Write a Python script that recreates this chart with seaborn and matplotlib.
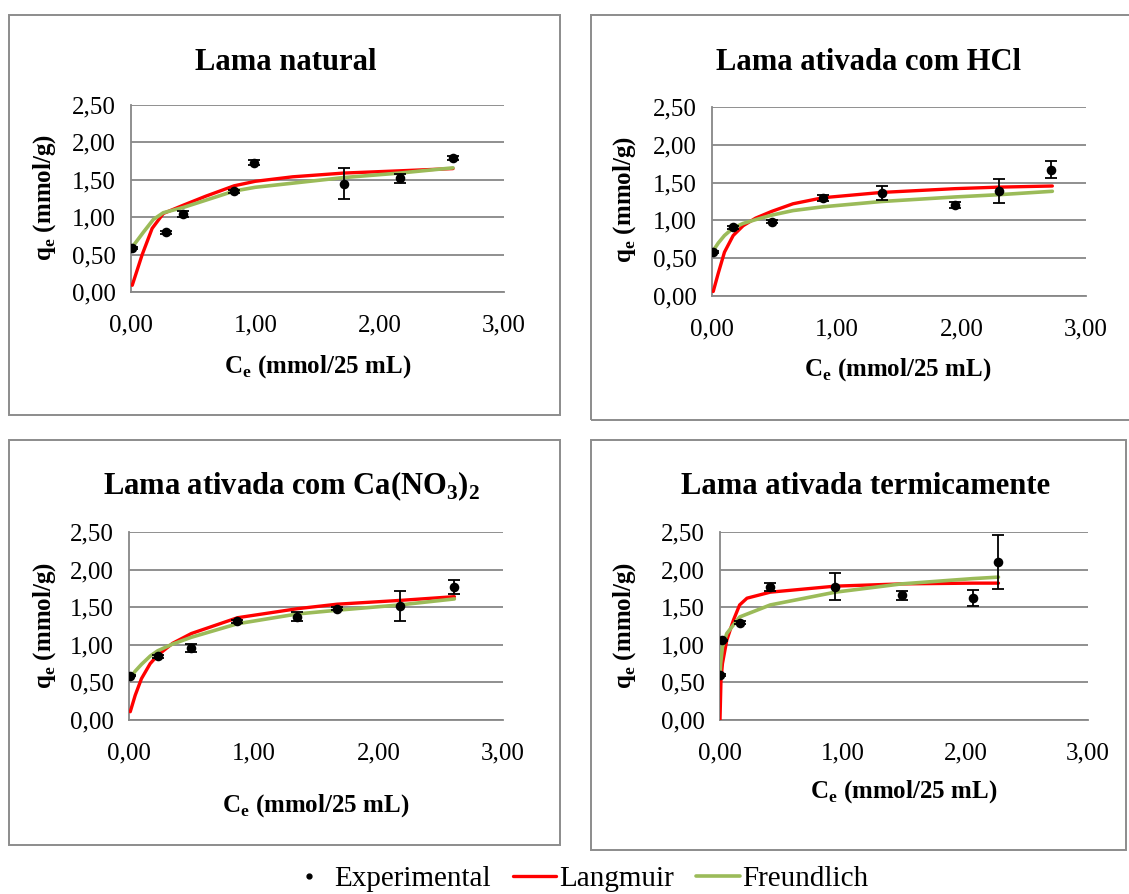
import numpy as np
import matplotlib
matplotlib.use("Agg")
import matplotlib.pyplot as plt
import seaborn as sns
from matplotlib.lines import Line2D
from matplotlib.patches import Rectangle

# ---------------- data ----------------
titles = ["Lama natural",
          "Lama ativada com HCl",
          r"Lama ativada com Ca(NO$_\mathregular{3}$)$_\mathregular{2}$",
          "Lama ativada termicamente"]

# Panel 1 - Lama natural
p1_ce = [0.01, 0.28, 0.42, 0.83, 0.99, 1.71, 2.16, 2.59]
p1_qe = [0.59, 0.80, 1.04, 1.35, 1.73, 1.45, 1.52, 1.79]
p1_err = [0.01, 0.02, 0.04, 0.02, 0.03, 0.21, 0.06, 0.03]
p1_lang_ce = [0.01, 0.09, 0.17, 0.26, 0.42, 0.60, 0.83, 1.00, 1.30, 1.71, 2.16, 2.59]
p1_lang_q = [0.09, 0.50, 0.85, 1.05, 1.16, 1.28, 1.42, 1.48, 1.54, 1.59, 1.62, 1.65]
p1_freu_ce = [0.01, 0.10, 0.18, 0.26, 0.42, 0.83, 1.00, 1.71, 2.16, 2.59]
p1_freu_q = [0.60, 0.80, 0.97, 1.06, 1.13, 1.35, 1.40, 1.53, 1.59, 1.66]

# Panel 2 - Lama ativada com HCl
p2_ce = [0.01, 0.17, 0.48, 0.89, 1.36, 1.95, 2.30, 2.72]
p2_qe = [0.58, 0.91, 0.98, 1.30, 1.36, 1.21, 1.39, 1.67]
p2_err = [0.01, 0.02, 0.02, 0.04, 0.09, 0.04, 0.155, 0.11]
p2_lang_ce = [0.01, 0.05, 0.10, 0.17, 0.25, 0.35, 0.48, 0.65, 0.89, 1.36, 1.95, 2.30, 2.73]
p2_lang_q = [0.06, 0.30, 0.58, 0.80, 0.93, 1.03, 1.12, 1.22, 1.30, 1.37, 1.42, 1.44, 1.455]
p2_freu_ce = [0.01, 0.05, 0.10, 0.17, 0.25, 0.35, 0.48, 0.65, 0.89, 1.36, 1.95, 2.30, 2.73]
p2_freu_q = [0.60, 0.70, 0.80, 0.90, 0.96, 1.01, 1.07, 1.13, 1.18, 1.25, 1.31, 1.34, 1.385]

# Panel 3 - Lama ativada com Ca(NO3)2
p3_ce = [0.01, 0.23, 0.50, 0.87, 1.35, 1.67, 2.17, 2.61]
p3_qe = [0.59, 0.85, 0.96, 1.31, 1.37, 1.48, 1.52, 1.77]
p3_err = [0.01, 0.02, 0.05, 0.02, 0.06, 0.02, 0.20, 0.09]
p3_lang_ce = [0.01, 0.05, 0.10, 0.17, 0.23, 0.35, 0.50, 0.87, 1.35, 1.67, 2.17, 2.61]
p3_lang_q = [0.11, 0.33, 0.55, 0.75, 0.86, 1.02, 1.15, 1.36, 1.48, 1.54, 1.59, 1.64]
p3_freu_ce = [0.01, 0.05, 0.10, 0.17, 0.23, 0.35, 0.50, 0.87, 1.35, 1.67, 2.17, 2.61]
p3_freu_q = [0.56, 0.65, 0.74, 0.85, 0.92, 1.01, 1.10, 1.28, 1.41, 1.46, 1.53, 1.61]

# Panel 4 - Lama ativada termicamente
p4_ce = [0.00, 0.02, 0.16, 0.41, 0.94, 1.48, 2.06, 2.27]
p4_qe = [0.60, 1.06, 1.29, 1.77, 1.77, 1.66, 1.62, 2.10]
p4_err = [0.01, 0.01, 0.02, 0.05, 0.18, 0.06, 0.11, 0.36]
p4_lang_ce = [0.00, 0.008, 0.02, 0.055, 0.11, 0.16, 0.22, 0.41, 0.94, 1.48, 2.06, 2.27]
p4_lang_q = [0.00, 0.53, 0.75, 1.06, 1.33, 1.53, 1.62, 1.70, 1.78, 1.81, 1.82, 1.82]
p4_freu_ce = [0.00, 0.005, 0.02, 0.055, 0.16, 0.41, 0.94, 1.48, 2.06, 2.27]
p4_freu_q = [0.60, 0.75, 0.97, 1.15, 1.37, 1.53, 1.70, 1.81, 1.88, 1.90]

x_ticks = [0, 1, 2, 3]
y_ticks = [0.0, 0.5, 1.0, 1.5, 2.0, 2.5]
x_label = r"C$_\mathregular{e}$ (mmol/25 mL)"
y_label = r"q$_\mathregular{e}$ (mmol/g)"
legend_labels = ["Experimental", "Langmuir", "Freundlich"]

# ---------------- style ----------------
sns.set_style("white")
plt.rcParams["font.family"] = ["Liberation Serif", "DejaVu Serif"]
plt.rcParams["mathtext.fontset"] = "custom"
plt.rcParams["mathtext.rm"] = "Liberation Serif"
plt.rcParams["text.color"] = "black"
plt.rcParams["axes.labelcolor"] = "black"
plt.rcParams["xtick.color"] = "black"
plt.rcParams["ytick.color"] = "black"

RED = "#FF0000"
GREEN = "#9BBB59"
GRAY = "#878787"
BORDER = "#8C8C8C"

W, H = 1129, 894
fig = plt.figure(figsize=(W / 100, H / 100), dpi=100)
fig.patch.set_facecolor("white")


def fx(x):
    return x / W


def fy(y):
    return 1 - y / H


def box(l, t, r, b):
    fig.patches.append(Rectangle((fx(l), fy(b)), (r - l) / W, (b - t) / H,
                                 transform=fig.transFigure, fill=False,
                                 edgecolor=BORDER, lw=1.4, zorder=0))


panels = [
    dict(ce=p1_ce, qe=p1_qe, err=p1_err, lc=p1_lang_ce, lq=p1_lang_q, fc=p1_freu_ce, fq=p1_freu_q,
         frame=(9, 15, 560, 415), axes=(131, 105, 504, 292), title_xy=(286, 70),
         xlab_xy=(318, 373), ylab_xy=(45, 198)),
    dict(ce=p2_ce, qe=p2_qe, err=p2_err, lc=p2_lang_ce, lq=p2_lang_q, fc=p2_freu_ce, fq=p2_freu_q,
         frame=(591, 15, 1140, 420), axes=(712, 107, 1086, 296), title_xy=(868, 70),
         xlab_xy=(898, 376), ylab_xy=(625, 200)),
    dict(ce=p3_ce, qe=p3_qe, err=p3_err, lc=p3_lang_ce, lq=p3_lang_q, fc=p3_freu_ce, fq=p3_freu_q,
         frame=(9, 440, 560, 845), axes=(129, 532, 503, 720), title_xy=(292, 494),
         xlab_xy=(316, 812), ylab_xy=(45, 626)),
    dict(ce=p4_ce, qe=p4_qe, err=p4_err, lc=p4_lang_ce, lq=p4_lang_q, fc=p4_freu_ce, fq=p4_freu_q,
         frame=(591, 440, 1126, 850), axes=(720, 532, 1088, 720), title_xy=(866, 494),
         xlab_xy=(904, 798), ylab_xy=(625, 626)),
]

fmt = lambda v: f"{v:.2f}".replace(".", ",")

for i, p in enumerate(panels):
    box(*p["frame"])
    l, t, r, b = p["axes"]
    ax = fig.add_axes([fx(l), fy(b), (r - l) / W, (b - t) / H])
    ax.set_facecolor("none")

    sns.lineplot(x=p["lc"], y=p["lq"], ax=ax, color=RED, lw=2.4, sort=False,
                 estimator=None, legend=False, zorder=3)
    sns.lineplot(x=p["fc"], y=p["fq"], ax=ax, color=GREEN, lw=2.6, sort=False,
                 estimator=None, legend=False, zorder=3)
    ax.errorbar(p["ce"], p["qe"], yerr=p["err"], fmt="none", ecolor="black",
                elinewidth=1.3, capsize=4.5, capthick=1.3, zorder=4)
    sns.scatterplot(x=p["ce"], y=p["qe"], ax=ax, color="black", s=48,
                    linewidth=0, legend=False, zorder=5)

    ax.set_xlim(0, 3)
    ax.set_ylim(0, 2.5)
    ax.set_xticks(x_ticks)
    ax.set_yticks(y_ticks)
    ax.set_xticklabels([fmt(v) for v in x_ticks], fontsize=18)
    ax.set_yticklabels([fmt(v) for v in y_ticks], fontsize=18)
    ax.yaxis.grid(True, color=GRAY, lw=1.3)
    ax.xaxis.grid(False)
    ax.set_axisbelow(True)
    for s in ["top", "right"]:
        ax.spines[s].set_visible(False)
    for s in ["left", "bottom"]:
        ax.spines[s].set_color(GRAY)
        ax.spines[s].set_linewidth(1.3)
    ax.tick_params(axis="x", direction="out", length=6, width=1.3, color=GRAY,
                   labelcolor="black", pad=10)
    ax.tick_params(axis="y", direction="out", length=7, width=1.3, color=GRAY,
                   labelcolor="black", pad=4)
    ax.set_xlabel("")
    ax.set_ylabel("")

    fig.text(fx(p["title_xy"][0]), fy(p["title_xy"][1]), titles[i], ha="center",
             va="baseline", fontsize=22, fontweight="bold", color="black")
    fig.text(fx(p["xlab_xy"][0]), fy(p["xlab_xy"][1]), x_label, ha="center",
             va="baseline", fontsize=18, fontweight="bold", color="black")
    fig.text(fx(p["ylab_xy"][0]), fy(p["ylab_xy"][1]), y_label, ha="center",
             va="center", rotation=90, fontsize=18, fontweight="bold", color="black")

handles = [Line2D([], [], ls="none", marker="o", color="black", markersize=3.5),
           Line2D([], [], color=RED, lw=2.4),
           Line2D([], [], color=GREEN, lw=2.6)]
leg = fig.legend(handles, legend_labels, loc="center", bbox_to_anchor=(fx(578), fy(879)),
                 ncol=3, frameon=False, fontsize=21, handlelength=1.5, handletextpad=0.1,
                 columnspacing=0.75, borderpad=0)
for txt in leg.get_texts():
    txt.set_color("black")

fig.savefig("out.png", dpi=100, facecolor="white")
